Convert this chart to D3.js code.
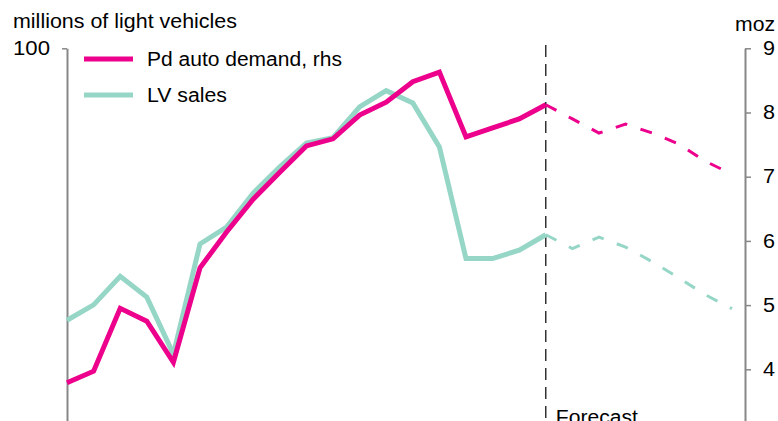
<!DOCTYPE html>
<html>
<head>
<meta charset="utf-8">
<script src="https://cdn.jsdelivr.net/npm/d3@7"></script>
<style>
  html, body { margin: 0; padding: 0; background: #fff; }
  svg { display: block; font-family: "Liberation Sans", Arial, sans-serif; }
</style>
</head>
<body>
<svg id="chart" width="778" height="421"></svg>
<script>
// ---- data ----
const years = [2005,2006,2007,2008,2009,2010,2011,2012,2013,2014,2015,2016,2017,2018,2019,2020,2021,2022,2023,2024,2025,2026,2027,2028,2029,2030];
const forecastStart = 2023;
// Pd auto demand, moz (rhs)
const pdDemand = [3.79,3.97,4.95,4.75,4.11,5.58,6.14,6.65,7.07,7.48,7.59,7.96,8.16,8.48,8.63,7.62,7.76,7.90,8.12,7.90,7.68,7.82,7.68,7.51,7.24,7.04];
// LV sales, millions of light vehicles (lhs)
const lvSales = [64.7,66.7,70.4,67.7,60.3,74.6,76.8,81.2,84.6,87.7,88.4,92.4,94.5,92.9,87.2,72.7,72.7,73.8,75.8,74.0,75.5,74.2,72.3,70.2,68.0,66.2];
const leftTicks = [100];
const rightTicks = [4,5,6,7,8,9];
const seriesNames = ["Pd auto demand, rhs", "LV sales"];
const leftTitle = "millions of light vehicles";
const rightTitle = "moz";
const forecastLabel = "Forecast";

// ---- styling ----
const pink = "#EC008C";
const teal = "#96D6C6";
const axisGrey = "#878787";
const FONT = 19.5;

const svg = d3.select("#chart");

const x = d3.scalePoint().domain(years).range([67, 732]);
const yR = d3.scaleLinear().domain([3, 9]).range([433.5, 48.3]);
const yL = d3.scaleLinear().domain([50, 100]).range([433.5, 48.3]);

function txt(sel, len) {
  sel.style("font-size", FONT + "px").attr("fill", "#000")
    .style("font-family", "'Liberation Sans', Arial, sans-serif");
  if (len) sel.attr("textLength", len).attr("lengthAdjust", "spacingAndGlyphs");
  return sel;
}

// axes
const leftAxis = d3.axisLeft(yL).tickValues(leftTicks).tickFormat(d3.format("d"))
  .tickSize(5).tickSizeOuter(0).tickPadding(12);
const rightAxis = d3.axisRight(yR).tickValues(rightTicks).tickFormat(d3.format("d"))
  .tickSize(6).tickSizeOuter(0).tickPadding(12);

const gL = svg.append("g").attr("transform", "translate(67,0)").call(leftAxis);
const gR = svg.append("g").attr("transform", "translate(745,0)").call(rightAxis);
[gL, gR].forEach(g => {
  g.select(".domain").attr("stroke", axisGrey).attr("stroke-width", 2);
  g.selectAll(".tick line").attr("stroke", axisGrey).attr("stroke-width", 1.5);
});
txt(gL.selectAll(".tick text"), 37);
txt(gR.selectAll(".tick text"), 12);

// axis titles
txt(svg.append("text").attr("x", 13).attr("y", 28).text(leftTitle), 224);
txt(svg.append("text").attr("x", 735).attr("y", 31).text(rightTitle), 40);

// forecast divider
svg.append("line")
  .attr("x1", x(forecastStart)).attr("x2", x(forecastStart))
  .attr("y1", 45).attr("y2", 421)
  .attr("stroke", "#000").attr("stroke-width", 1.2).attr("stroke-dasharray", "12,7");
txt(svg.append("text").attr("x", x(forecastStart) + 10).attr("y", 424).text(forecastLabel), 82);

// lines
const idxF = years.indexOf(forecastStart);
function drawSeries(vals, yScale, color) {
  const pts = years.map((yr, i) => [x(yr), yScale(vals[i])]);
  const line = d3.line().curve(d3.curveLinear);
  svg.append("path").attr("d", line(pts.slice(0, idxF + 1)))
    .attr("fill", "none").attr("stroke", color).attr("stroke-width", 5)
    .attr("stroke-linejoin", "miter").attr("stroke-linecap", "butt");
  svg.append("path").attr("d", line(pts.slice(idxF)))
    .attr("fill", "none").attr("stroke", color).attr("stroke-width", 3)
    .attr("stroke-dasharray", "12,14");
}
drawSeries(lvSales, yL, teal);
drawSeries(pdDemand, yR, pink);

// legend
const legend = [
  { name: seriesNames[0], color: pink, y: 59, w: 195 },
  { name: seriesNames[1], color: teal, y: 95, w: 80 }
];
legend.forEach(d => {
  svg.append("line").attr("x1", 84).attr("x2", 133).attr("y1", d.y).attr("y2", d.y)
    .attr("stroke", d.color).attr("stroke-width", 5);
  txt(svg.append("text").attr("x", 147).attr("y", d.y + 7).text(d.name), d.w);
});
</script>
</body>
</html>
